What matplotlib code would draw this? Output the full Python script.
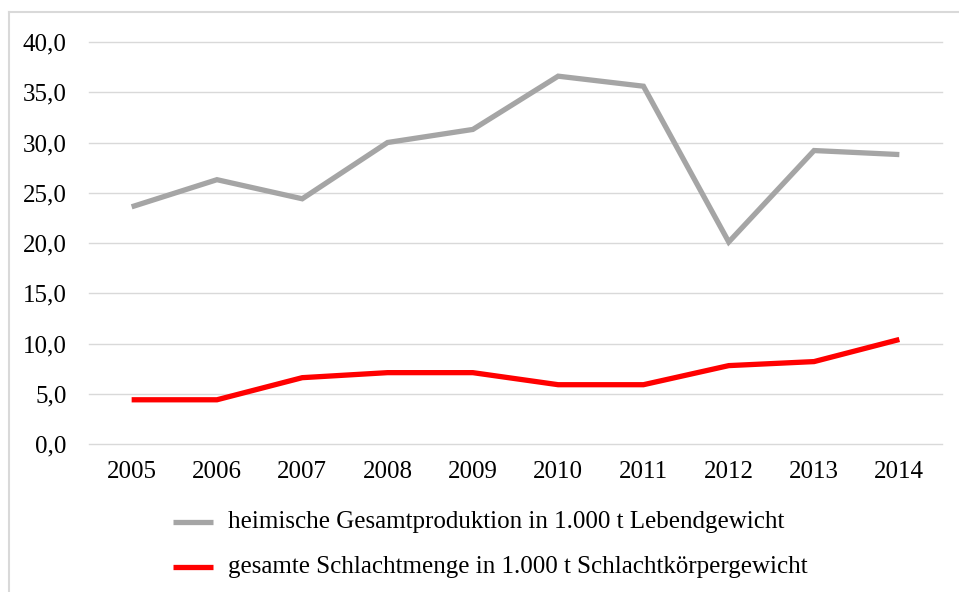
import matplotlib.pyplot as plt
import matplotlib.ticker as mticker
from matplotlib.lines import Line2D

years = ["2005", "2006", "2007", "2008", "2009", "2010", "2011", "2012", "2013", "2014"]
gesamtproduktion = [23.6, 26.3, 24.4, 30.0, 31.3, 36.6, 35.6, 20.1, 29.2, 28.8]
schlachtmenge = [4.4, 4.4, 6.6, 7.1, 7.1, 5.9, 5.9, 7.8, 8.2, 10.4]
labels = [
    "heimische Gesamtproduktion in 1.000 t Lebendgewicht",
    "gesamte Schlachtmenge in 1.000 t Schlachtkörpergewicht",
]

W, H = 959, 592
FS = 18
plt.rcParams["font.family"] = ["Liberation Serif", "DejaVu Serif"]

fig = plt.figure(figsize=(W / 100, H / 100), dpi=100)
ax = fig.add_axes([89 / W, 1 - 444 / H, (942 - 89) / W, (444 - 42) / H])

x = range(len(years))
ax.plot(x, gesamtproduktion, color="#A5A5A5", linewidth=3.8, solid_capstyle="butt",
        solid_joinstyle="miter", label=labels[0], zorder=3)
ax.plot(x, schlachtmenge, color="#FF0000", linewidth=3.8, solid_capstyle="butt",
        solid_joinstyle="miter", label=labels[1], zorder=3)

ax.set_xlim(-0.5, len(years) - 0.5)
ax.set_ylim(0, 40)
ax.set_xticks(list(x))
ax.set_xticklabels(years)
ax.yaxis.set_major_locator(mticker.MultipleLocator(5))
ax.yaxis.set_major_formatter(mticker.FuncFormatter(lambda v, _: f"{v:.1f}".replace(".", ",")))
ax.tick_params(axis="both", length=0, labelsize=FS, colors="#000000")
ax.tick_params(axis="y", pad=16)
ax.tick_params(axis="x", pad=12.5)
ax.grid(True, axis="y", color="#D9D9D9", linewidth=1.0, zorder=0)
for gl in ax.get_ygridlines():
    gl.set_clip_on(False)
for s in ax.spines.values():
    s.set_visible(False)
ax.set_axisbelow(True)

# legend entries stacked below the plot
for i, (lab, col) in enumerate(zip(labels, ["#A5A5A5", "#FF0000"])):
    yy = 1 - (522 + 45 * i) / H
    fig.add_artist(Line2D([173 / W, 213 / W], [yy, yy], color=col, linewidth=3.8,
                          solid_capstyle="butt"))
    fig.text(228 / W, yy, lab, fontsize=FS, va="center", ha="left")

# chart frame (top and left edges visible)
fig.add_artist(Line2D([9 / W, 1.0], [1 - 12 / H, 1 - 12 / H], color="#D9D9D9", linewidth=1.5))
fig.add_artist(Line2D([9 / W, 9 / W], [0, 1 - 12 / H], color="#D9D9D9", linewidth=1.5))

fig.savefig("out.png", dpi=100)
